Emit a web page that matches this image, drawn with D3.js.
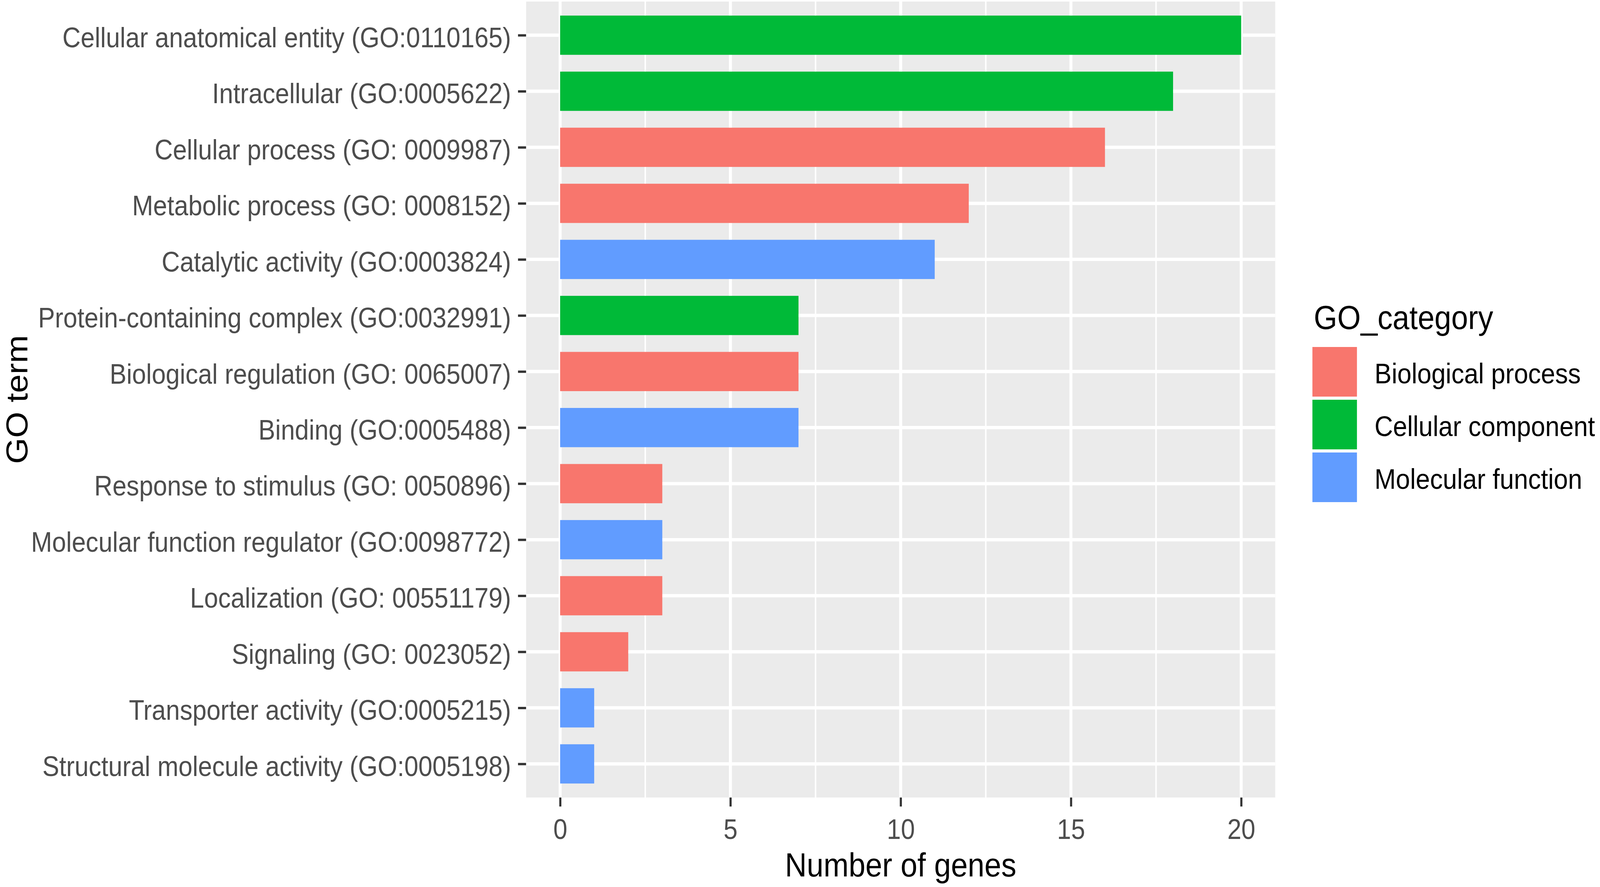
<!DOCTYPE html>
<html>
<head>
<meta charset="utf-8">
<script src="https://cdn.jsdelivr.net/npm/d3@7"></script>
<style>
  html, body { margin: 0; padding: 0; background: #ffffff; overflow: hidden; }
  svg { display: block; font-family: "Liberation Sans", Arial, sans-serif; }
</style>
</head>
<body>
<div id="chart"></div>
<script>
// GO terms, top to bottom as in the figure
var terms = [
    "Cellular anatomical entity (GO:0110165)",
    "Intracellular (GO:0005622)",
    "Cellular process (GO: 0009987)",
    "Metabolic process (GO: 0008152)",
    "Catalytic activity (GO:0003824)",
    "Protein-containing complex (GO:0032991)",
    "Biological regulation (GO: 0065007)",
    "Binding (GO:0005488)",
    "Response to stimulus (GO: 0050896)",
    "Molecular function regulator (GO:0098772)",
    "Localization (GO: 00551179)",
    "Signaling (GO: 0023052)",
    "Transporter activity (GO:0005215)",
    "Structural molecule activity (GO:0005198)"
];
var geneCounts = [20, 18, 16, 12, 11, 7, 7, 7, 3, 3, 3, 2, 1, 1];
var termCategory = [
    "Cellular component", "Cellular component", "Biological process",
    "Biological process", "Molecular function", "Cellular component",
    "Biological process", "Molecular function", "Biological process",
    "Molecular function", "Biological process", "Biological process",
    "Molecular function", "Molecular function"
];
var categories = ["Biological process", "Cellular component", "Molecular function"];
var categoryColors = ["#F8766D", "#00BA38", "#619CFF"];
var xTicks = [0, 5, 10, 15, 20];
var xMinor = [2.5, 7.5, 12.5, 17.5];

document.addEventListener("DOMContentLoaded", function() {
    var w = 4562;
    var h = 2270;

    var panel = { left: 1500, right: 3636, top: 4, bottom: 2041 };

    var data = terms.map(function(t, i) {
        return { term: t, count: geneCounts[i], cat: termCategory[i] };
    });

    // drawing is laid out in 4562x2270 units and stretched to fill the window
    var svg = d3.select("#chart")
                .append("svg")
                .attr("viewBox", "0 0 " + w + " " + h)
                .attr("preserveAspectRatio", "none")
                .style("width", "100vw")
                .style("height", "100vh");

    var x = d3.scaleLinear()
              .domain([-1, 21])
              .range([panel.left, panel.right]);

    var y = d3.scalePoint()
              .domain(terms)
              .range([panel.top, panel.bottom])
              .padding(0.6);

    var color = d3.scaleOrdinal()
                  .domain(categories)
                  .range(categoryColors);

    // panel background
    svg.append("rect")
       .attr("x", panel.left)
       .attr("y", panel.top)
       .attr("width", panel.right - panel.left)
       .attr("height", panel.bottom - panel.top)
       .attr("fill", "#EBEBEB");

    // minor vertical grid
    svg.selectAll("line.minor")
       .data(xMinor)
       .enter()
       .append("line")
       .attr("class", "minor")
       .attr("x1", function(d) { return x(d); })
       .attr("x2", function(d) { return x(d); })
       .attr("y1", panel.top)
       .attr("y2", panel.bottom)
       .attr("stroke", "#ffffff")
       .attr("stroke-width", 4.3);

    // major vertical grid
    svg.selectAll("line.majorx")
       .data(xTicks)
       .enter()
       .append("line")
       .attr("class", "majorx")
       .attr("x1", function(d) { return x(d); })
       .attr("x2", function(d) { return x(d); })
       .attr("y1", panel.top)
       .attr("y2", panel.bottom)
       .attr("stroke", "#ffffff")
       .attr("stroke-width", 8.5);

    // major horizontal grid
    svg.selectAll("line.majory")
       .data(terms)
       .enter()
       .append("line")
       .attr("class", "majory")
       .attr("x1", panel.left)
       .attr("x2", panel.right)
       .attr("y1", function(d) { return y(d); })
       .attr("y2", function(d) { return y(d); })
       .attr("stroke", "#ffffff")
       .attr("stroke-width", 8.5);

    // bars
    var barH = y.step() * 0.7;
    svg.selectAll("rect.bar")
       .data(data)
       .enter()
       .append("rect")
       .attr("class", "bar")
       .attr("x", x(0))
       .attr("y", function(d) { return y(d.term) - barH / 2; })
       .attr("width", function(d) { return x(d.count) - x(0); })
       .attr("height", barH)
       .attr("fill", function(d) { return color(d.cat); });

    // x axis
    var xAxis = svg.append("g")
                   .attr("transform", "translate(0," + panel.bottom + ")")
                   .call(d3.axisBottom(x).tickValues(xTicks).tickSize(23).tickPadding(32));
    xAxis.select(".domain").remove();
    xAxis.selectAll(".tick line").attr("stroke", "#333333").attr("stroke-width", 6);
    xAxis.selectAll(".tick text")
         .attr("fill", "#4D4D4D")
         .attr("font-size", 72)
         .attr("font-family", "Liberation Sans, Arial, sans-serif");

    // y axis
    var yAxis = svg.append("g")
                   .attr("transform", "translate(" + panel.left + ",0)")
                   .call(d3.axisLeft(y).tickSize(23).tickPadding(20));
    yAxis.select(".domain").remove();
    yAxis.selectAll(".tick line").attr("stroke", "#333333").attr("stroke-width", 6);
    yAxis.selectAll(".tick text")
         .attr("fill", "#4D4D4D")
         .attr("font-size", 72)
         .attr("font-family", "Liberation Sans, Arial, sans-serif")
         .attr("dy", "0.42em");

    // axis titles
    svg.append("text")
       .attr("x", (panel.left + panel.right) / 2)
       .attr("y", 2243)
       .attr("text-anchor", "middle")
       .attr("font-size", 86)
       .attr("fill", "#000000")
       .text("Number of genes");

    svg.append("text")
       .attr("transform", "translate(78," + ((panel.top + panel.bottom) / 2) + ") rotate(-90)")
       .attr("text-anchor", "middle")
       .attr("font-size", 86)
       .attr("fill", "#000000")
       .text("GO term");

    // legend
    var legend = svg.append("g").attr("transform", "translate(3742,0)");
    legend.append("text")
          .attr("x", 4)
          .attr("y", 842)
          .attr("font-size", 86)
          .attr("fill", "#000000")
          .text("GO_category");

    var keyStep = 135;
    var keys = legend.selectAll("g.key")
                     .data(categories)
                     .enter()
                     .append("g")
                     .attr("class", "key")
                     .attr("transform", function(d, i) {
                         return "translate(0," + (888 + i * keyStep) + ")";
                     });
    keys.append("rect")
        .attr("x", 0)
        .attr("y", 0)
        .attr("width", 127)
        .attr("height", 127)
        .attr("fill", function(d) { return color(d); });
    keys.append("text")
        .attr("x", 177)
        .attr("y", 63 + 30)
        .attr("font-size", 73)
        .attr("fill", "#000000")
        .text(function(d) { return d; });
});
</script>
</body>
</html>
